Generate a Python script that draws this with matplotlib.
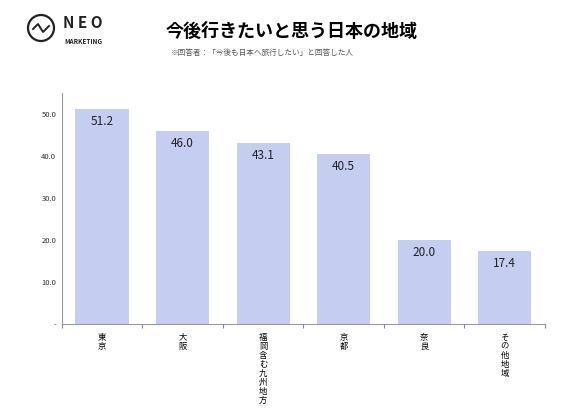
import matplotlib
matplotlib.use("Agg")
import matplotlib.pyplot as plt
from matplotlib.patches import Ellipse
from matplotlib.lines import Line2D

plt.rcParams['font.family'] = ['Noto Sans CJK JP', 'DejaVu Sans']

categories = ["東京", "大阪", "福岡含む九州地方", "京都", "奈良", "その他地域"]
values = [51.2, 46.0, 43.1, 40.5, 20.0, 17.4]
yticks = [0, 10, 20, 30, 40, 50]
ytick_labels = ["-", "10.0", "20.0", "30.0", "40.0", "50.0"]

fig = plt.figure(figsize=(5.67, 4.13), dpi=100)
ax = fig.add_axes([0.109, 0.215, 0.852, 0.56])
x = list(range(len(categories)))
ax.bar(x, values, width=0.66, color="#c5cdf0")
for xi, v in zip(x, values):
    ax.text(xi, v - 1.5, f"{v:.1f}", ha="center", va="top", fontsize=8.5, color="#222222")
ax.set_xlim(-0.5, len(categories) - 0.5)
ax.set_ylim(0, 55)
ax.set_yticks(yticks)
ax.set_yticklabels(ytick_labels, fontsize=5.5, color="#333333")
ax.set_xticks([i - 0.5 for i in range(len(categories) + 1)], minor=False)
ax.set_xticklabels([])
ax.set_xticks(x, minor=True)
ax.set_xticklabels(["\n".join(c) for c in categories], minor=True, fontsize=6, linespacing=1.0, va="top")
ax.tick_params(axis="x", which="minor", length=0, pad=6)
ax.tick_params(axis="x", which="major", length=3, color="#888888")
ax.tick_params(axis="y", length=0, pad=4)
for s in ["top", "right"]:
    ax.spines[s].set_visible(False)
ax.spines["left"].set_color("#999999")
ax.spines["bottom"].set_color("#999999")

fig.text(0.292, 0.925, "今後行きたいと思う日本の地域", fontsize=13, fontweight="bold", va="center")
fig.text(0.302, 0.872, "※回答者：「今後も日本へ旅行したい」と回答した人", fontsize=5.5, color="#555555", va="center")
# logo
cx, cy = 41 / 567, 1 - 28 / 413
fig.add_artist(Ellipse((cx, cy), 26 / 567, 26 / 413, transform=fig.transFigure, fill=False, lw=1.6, ec="#222222"))
wx = [cx - 8 / 567, cx - 3 / 567, cx + 2 / 567, cx + 8 / 567]
wy = [cy - 1 / 413, cy + 4 / 413, cy - 4 / 413, cy + 2 / 413]
fig.add_artist(Line2D(wx, wy, transform=fig.transFigure, color="#222222", lw=1.4))
fig.text(63 / 567, 1 - 23 / 413, "N E O", fontsize=11, fontweight="bold", va="center", color="#222222")
fig.text(64 / 567, 1 - 41 / 413, "MARKETING", fontsize=4.6, fontweight="bold", va="center", color="#222222")
fig.savefig("out.png", dpi=100)
